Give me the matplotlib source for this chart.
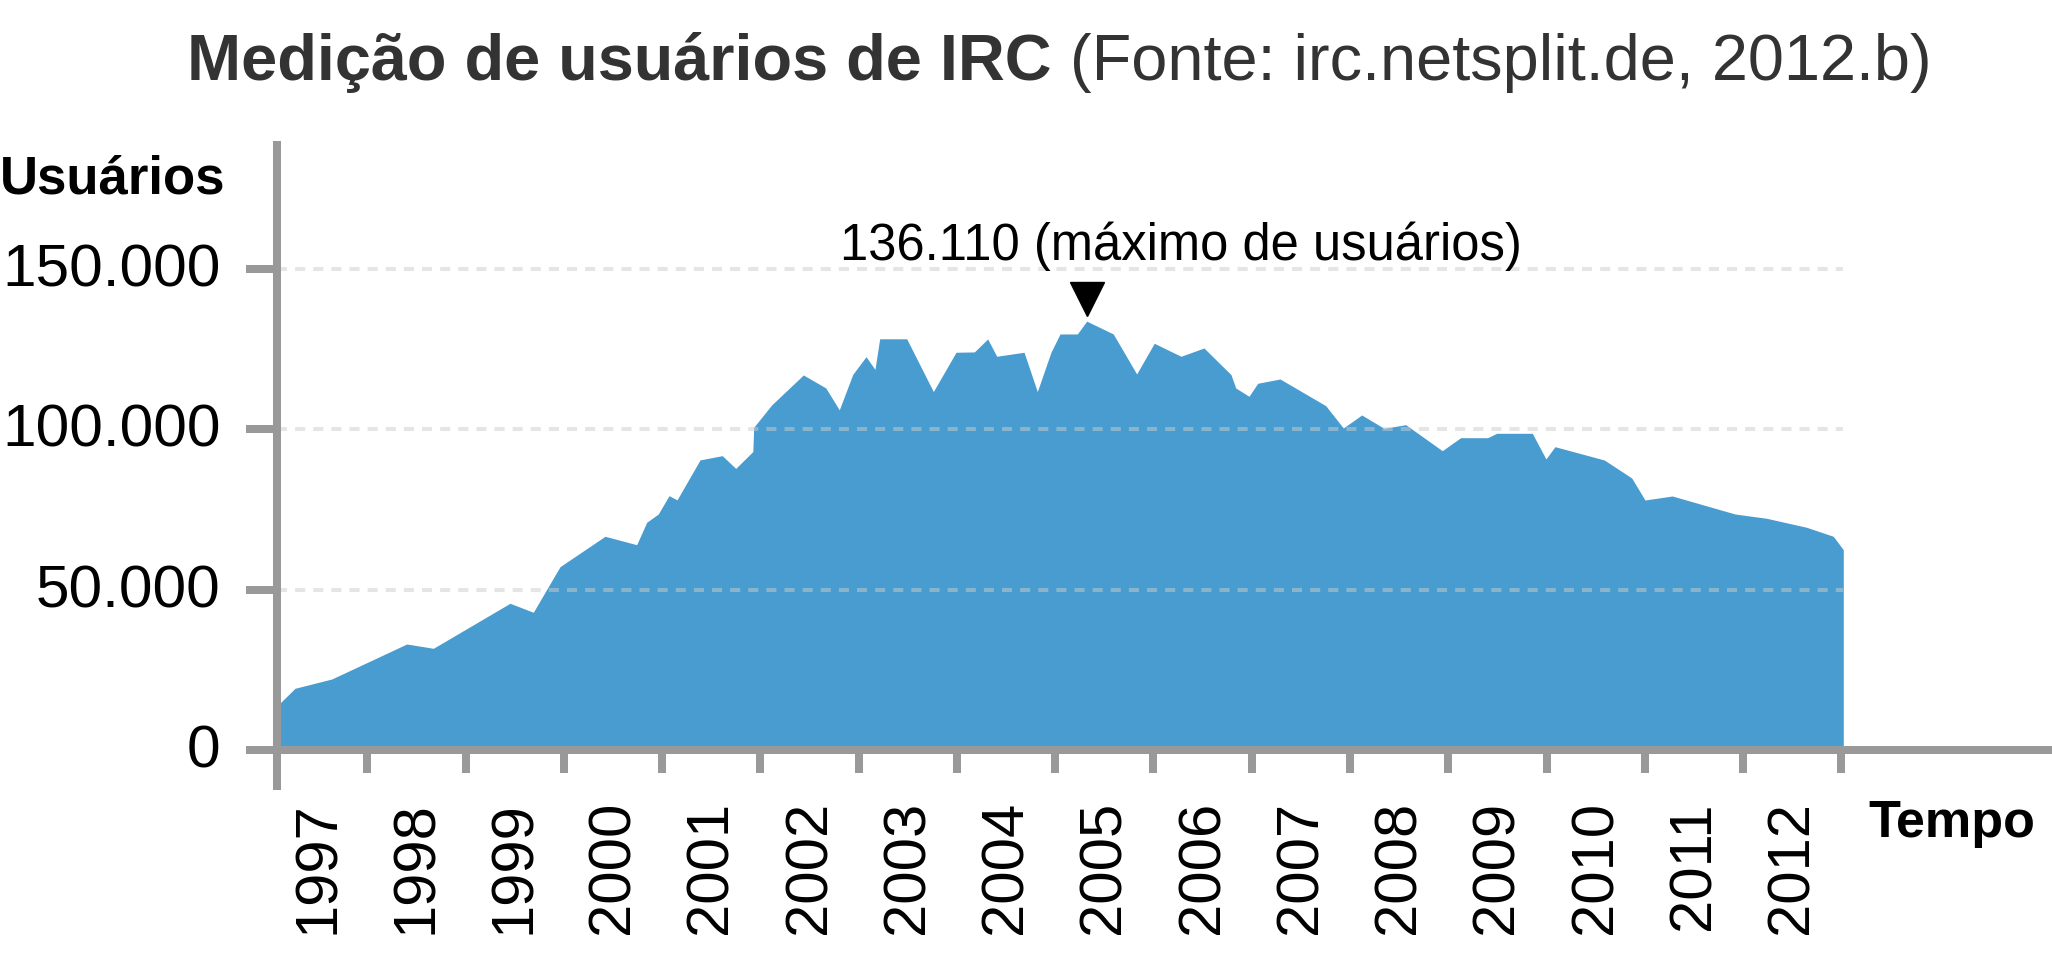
import numpy as np
import matplotlib
matplotlib.use('Agg')
import matplotlib.pyplot as plt
from matplotlib.transforms import offset_copy, ScaledTranslation

plt.rcParams['font.family'] = ['Liberation Sans', 'DejaVu Sans']

# IRC users (decimal year, users)
years = [1997.08, 1997.264, 1997.638, 1998.401, 1998.672, 1999.452, 1999.689, 1999.961,
         2000.419, 2000.741, 2000.843, 2000.961, 2001.070, 2001.152, 2001.386, 2001.612,
         2001.749, 2001.923, 2001.932, 2002.115, 2002.437, 2002.665, 2002.803, 2002.940,
         2003.075, 2003.166, 2003.214, 2003.489, 2003.760, 2003.991, 2004.177, 2004.313,
         2004.405, 2004.683, 2004.818, 2004.957, 2005.049, 2005.225, 2005.321, 2005.591,
         2005.829, 2006.008, 2006.280, 2006.514, 2006.789, 2006.837, 2006.972, 2007.061,
         2007.288, 2007.753, 2007.932, 2008.119, 2008.346, 2008.567, 2008.939, 2009.126,
         2009.401, 2009.493, 2009.855, 2009.994, 2010.086, 2010.588, 2010.867, 2011.002,
         2011.280, 2011.918, 2012.240, 2012.647, 2012.918, 2013.020]
users = [13700, 19260, 22160, 33070, 31730, 45760, 42950, 57170,
         66640, 64020, 71000, 73590, 79300, 78000, 90450, 91770,
         87800, 93050, 100600, 107600, 116920, 112900, 106050, 117100,
         122630, 118650, 128200, 128200, 111750, 124000, 124100, 128150,
         122750, 124000, 111750, 124000, 129700, 129700, 133700, 129700,
         117230, 126800, 122750, 125330, 117020, 112870, 110280, 114330,
         115670, 107350, 100400, 104450, 100300, 101430, 93320, 97370,
         97370, 98740, 98740, 90740, 94570, 90420, 84810, 77950,
         79200, 73590, 72250, 69440, 66640, 62470]

year_labels = [str(y) for y in range(1997, 2013)]
y_ticks = [0, 50000, 100000, 150000]
y_tick_labels = ['0', '50.000', '100.000', '150.000']
peak_label = '136.110 (máximo de usuários)'

W, H = 2052, 954
fig = plt.figure(figsize=(W / 100, H / 100), dpi=100)
ax = fig.add_axes([0.13485, 0.17505, 0.86305, 0.67191])

gray = '#999999'
ax.fill_between(years, users, 0, color='#489cd0', linewidth=0, zorder=1)
ax.hlines(y_ticks[1:], years[0], years[-1], colors='#cccccc', alpha=0.5,
          linewidth=2.9, linestyles=(0, (2.5, 2.0)), zorder=3)

ax.set_xlim(1997.078, 2015.10)
ax.set_ylim(-11190, 188600)

for s in ['top', 'right']:
    ax.spines[s].set_visible(False)
ax.spines['bottom'].set_position(('data', 0))
for s in ['left', 'bottom']:
    ax.spines[s].set_color(gray)
    ax.spines[s].set_linewidth(5.76)
    ax.spines[s].set_zorder(4)

ax.set_xticks(np.arange(1998, 2014))
ax.set_xticklabels([])
ax.set_xticks(np.arange(1997, 2013) + 0.5, minor=True)
ax.set_xticklabels(year_labels, minor=True)
ax.tick_params(axis='x', which='major', length=16.5, width=5.76, color=gray)
ax.tick_params(axis='x', which='minor', length=0, pad=36, labelsize=43,
               labelrotation=90)

ax.set_yticks(y_ticks)
ax.set_yticklabels(y_tick_labels)
ax.tick_params(axis='y', length=22.3, width=5.76, color=gray, pad=18, labelsize=43.5)
for lab in ax.get_yticklabels():
    lab.set_transform(lab.get_transform() + ScaledTranslation(0, 0.05, fig.dpi_scale_trans))

# peak marker and label
i_max = int(np.argmax(users))
px, py = years[i_max], users[i_max]
tri = offset_copy(ax.transData, fig=fig, y=22 * 0.72, units='points')
ax.plot([px], [py], marker='v', ms=25, color='black', linestyle='none',
        transform=tri, zorder=5, clip_on=False)
ax.annotate(peak_label, xy=(px, py), xytext=(68, 44.6), textcoords='offset points',
            ha='center', va='baseline', fontsize=36.5, color='black')

# axis titles
fig.text(0 / W, 1 - 194 / H, 'Usuários', fontsize=38, fontweight='bold',
         ha='left', va='baseline')
fig.text(1868 / W, 1 - 837 / H, 'Tempo', fontsize=37.5, fontweight='bold',
         ha='left', va='baseline')

# title: bold part + regular part
t1 = fig.text(187 / W, 1 - 80 / H, 'Medição de usuários de IRC', fontsize=46.7,
              fontweight='bold', color='#333333', ha='left', va='baseline')
fig.canvas.draw()
bb = t1.get_window_extent()
fig.text(bb.x1 / W, 1 - 80 / H, ' (Fonte: irc.netsplit.de, 2012.b)', fontsize=46.7,
         color='#333333', ha='left', va='baseline')

fig.savefig('out.png', dpi=100)
